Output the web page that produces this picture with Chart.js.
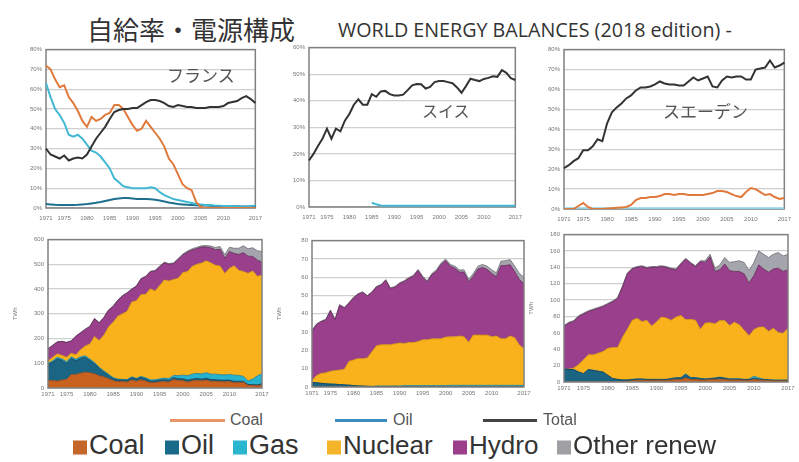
<!DOCTYPE html>
<html>
<head>
<meta charset="utf-8">
<script src="https://cdn.jsdelivr.net/npm/chart.js@4/dist/chart.umd.min.js"></script>
<style>
  body { margin: 0; background: #fff; width: 799px; height: 462px; position: relative; overflow: hidden;
         font-family: "Liberation Sans", Arial, sans-serif; }
  canvas { position: absolute; }
  .t { position: absolute; white-space: nowrap; color: #333; transform: translateY(-50%); }
  .sq { display: inline-block; width: 14px; height: 14px; margin-right: 2px; vertical-align: -1px; }
  .ln { position: absolute; height: 3px; }
</style>
</head>
<body>
<div class="t" style="left:87px;top:29px;font-size:26px;line-height:26px;font-family:'Noto Sans CJK JP';">自給率・電源構成</div>
<div class="t" style="left:338px;top:30px;font-size:19.7px;line-height:20px;font-family:'Open Sans';">WORLD ENERGY BALANCES (2018 edition) -</div>

<canvas id="frRate" width="253" height="182" style="left:16px;top:42px"></canvas>
<canvas id="chRate" width="250" height="183" style="left:279px;top:40px"></canvas>
<canvas id="seRate" width="264" height="183" style="left:534px;top:42px"></canvas>
<canvas id="frGen" width="260" height="170" style="left:12px;top:232px"></canvas>
<canvas id="chGen" width="258" height="168" style="left:276px;top:233px"></canvas>
<canvas id="seGen" width="270" height="169" style="left:528px;top:227px"></canvas>

<div class="t" style="left:167px;top:74px;font-size:17px;color:#555;font-family:'Noto Sans CJK JP';">フランス</div>
<div class="t" style="left:422px;top:110px;font-size:16px;color:#555;font-family:'Noto Sans CJK JP';">スイス</div>
<div class="t" style="left:663px;top:110px;font-size:17px;color:#555;font-family:'Noto Sans CJK JP';">スエーデン</div>

<div class="ln" style="left:170px;top:419px;width:55px;background:#e8946a"></div>
<div class="t" style="left:230px;top:420px;font-size:16px;color:#555">Coal</div>
<div class="ln" style="left:335px;top:419px;width:52px;background:#3a8cbc"></div>
<div class="t" style="left:393px;top:420px;font-size:16px;color:#555">Oil</div>
<div class="ln" style="left:483px;top:419px;width:54px;background:#444"></div>
<div class="t" style="left:543px;top:420px;font-size:16px;color:#555">Total</div>

<div class="t" style="left:73px;top:445px;font-size:27px"><span class="sq" style="background:#c4652a"></span>Coal</div>
<div class="t" style="left:165px;top:445px;font-size:27px"><span class="sq" style="background:#1a6a8a"></span>Oil</div>
<div class="t" style="left:233px;top:445px;font-size:27px"><span class="sq" style="background:#2ab5d0"></span>Gas</div>
<div class="t" style="left:327px;top:445px;font-size:26px"><span class="sq" style="background:#f5b52a"></span>Nuclear</div>
<div class="t" style="left:453px;top:445px;font-size:26px"><span class="sq" style="background:#9b3f8c"></span>Hydro</div>
<div class="t" style="left:557px;top:445px;font-size:26px"><span class="sq" style="background:#a0a0a4"></span>Other renew</div>

<script>
// years 1971-2017
const years = ['1971','1972','1973','1974','1975','1976','1977','1978','1979','1980',
  '1981','1982','1983','1984','1985','1986','1987','1988','1989','1990',
  '1991','1992','1993','1994','1995','1996','1997','1998','1999','2000',
  '2001','2002','2003','2004','2005','2006','2007','2008','2009','2010',
  '2011','2012','2013','2014','2015','2016','2017'];
const shownYears = ['1971','1975','1980','1985','1990','1995','2000','2005','2010','2017'];

// self-sufficiency, %
const frCoalRate = [72,70,65,61,62,56,53,49,44,41, 46,44,45,47,48,52,52,50,46,42,
  39,40,44,41,38,35,31,25,22,17, 12,10,9,3,0.5,0,0,0,0,0, 0,0,0,0,0,0,0];
const frGasRate = [63,56,50,47,43,37,36,37,35,32, 29,28,26,23,20,15,13,11,10.5,10,
  10,10,10,10.5,10,8,6.5,5.5,4.5,4, 3.5,3,2.5,2,1.8,1.5,1.5,1.3,1.2,1, 1,1,0.8,0.8,0.8,1,1.2];
const frOilRate = [2,1.8,1.6,1.5,1.5,1.5,1.5,1.6,1.8,2, 2.3,2.6,3,3.5,4,4.5,4.8,5,5,4.8,
  4.6,4.5,4.5,4.4,4.2,3.8,3.3,2.8,2.4,2, 1.8,1.6,1.5,1.4,1.3,1.2,1.1,1,1,1, 1,0.9,0.9,0.8,0.8,0.8,0.8];
const frTotalRate = [30,27,26,25,26.5,24,25,25.5,25,27, 31,35,38,41,45,48.5,49.5,50,50,50.5,
  50.5,52,53.5,54.5,54.5,54,53,51.5,51,52, 51.5,51,51,50.5,50.5,50.5,51,51,51,51.5, 53,53.5,54,55.5,56.5,55,53];

const chGasRate = [null,null,null,null,null,null,null,null,null,null, null,null,null,null,1.6,1,0.6,0.5,0.5,0.5,
  0.5,0.5,0.5,0.5,0.5,0.5,0.5,0.5,0.5,0.5, 0.5,0.5,0.5,0.5,0.5,0.5,0.5,0.5,0.5,0.5, 0.5,0.5,0.5,0.5,0.5,0.5,0.5];
const chTotalRate = [17.5,20,23,25.7,29.5,25.7,29.5,28.5,32.5,35, 38.5,40.5,38.5,38.5,42.5,41.5,43.5,43.7,42.5,42,
  42,42.3,44,45.8,46.3,46.2,44.6,45.2,47,47.4, 47.4,47,46.6,45,43,45.5,48.3,47.8,47.4,48.2, 48.6,49.2,49,51.5,50.5,48.5,47.8];

const seCoalRate = [0,0,0,1.5,3,1,0,0,0,0.2, 0.4,0.6,0.8,1,2,4.5,5.5,5.5,6,6,
  6.5,7.5,7.5,7,7.5,7.5,7,7,7,7, 7.5,8,9,9,8.5,7.5,6.5,6,8.5,10.5, 10,8.5,7,7.5,6,5,5.5];
const seGasRate = [0.4,0.4,0.4,0.4,0.4,0.4,0.4,0.4,0.4,0.4, 0.4,0.4,0.4,0.4,0.4,0.4,0.4,0.4,0.4,0.4,
  0.4,0.4,0.4,0.4,0.4,0.4,0.4,0.4,0.4,0.4, 0.4,0.4,0.4,0.4,0.4,0.4,0.4,0.4,0.4,0.4, 0.4,0.4,0.4,0.4,0.4,0.4,0.4];
const seTotalRate = [20.5,22,24,25.5,29.5,29.5,31.5,35,34,43, 48.5,51,53,55.5,57,59.5,61,61,61.5,62.5,
  64,63,62.5,62.5,62,62,64,66,64.5,65.5, 66.5,61.5,61,64.5,66.5,66,66.5,66.5,65,65, 70,70.5,71,74.5,71,72,73.5];

// electricity generation, TWh
const frCoal = [30,30,28,32,35,55,55,60,64,62, 58,50,45,38,30,26,26,24,32,28,
  33,28,22,22,25,26,24,34,30,30, 24,29,31,29,32,27,27,26,25,26, 22,22,23,11,10,9,12];
const frOil = [65,75,90,80,65,65,55,60,60,50, 40,30,20,14,8,7,6,7,10,8,
  10,9,6,6,7,8,7,8,8,7, 8,7,8,7,8,7,7,6,7,6, 5,5,4,3,4,4,5];
const frGas = [5,5,6,6,6,6,6,6,6,5, 5,4,4,4,4,3,3,3,3,3,
  4,4,5,5,5,6,7,9,12,15, 18,20,20,21,22,22,22,22,21,23, 25,24,20,14,22,36,41];
const frNuclear = [9,14,14,14,18,15,18,29,40,61, 105,108,144,191,224,254,265,276,303,314,
  331,338,368,359,377,397,395,388,394,415, 421,436,441,448,452,450,440,439,410,429, 442,425,424,436,437,403,398];
const frHydro = [49,48,48,56,60,49,75,68,67,70, 72,71,71,67,64,64,72,74,51,58,
  63,71,69,81,76,69,67,64,77,71, 79,66,64,65,56,61,63,68,62,68, 50,64,76,69,59,65,53];
const frOther = [1,1,1,1,1,1,1,1,1,1.5, 1.5,1.5,1.5,1.5,1.5,1.5,1.5,1.5,1.5,2,
  2,2,2,2,3,3,3,3,3,4, 4,5,5,5,6,7,9,11,14,17, 21,25,28,30,35,38,43];

const chCoal = [0,0,0,0,0,0,0,0,0,0, 0,0,0,0,0,0,0,0,0,0,
  0,0,0,0,0,0,0,0,0,0, 0,0,0,0,0,0,0,0,0,0, 0,0,0,0,0,0,0];
const chOil = [2.5,2.3,2,1.8,1.6,1.5,1.3,1.2,1,0.8, 0.6,0.5,0.4,0.3,0.2,0.2,0.2,0.2,0.2,0.2,
  0.2,0.2,0.2,0.2,0.2,0.2,0.2,0.2,0.2,0.2, 0.2,0.2,0.2,0.2,0.2,0.2,0.2,0.2,0.2,0.2, 0.2,0.2,0.2,0.2,0.2,0.2,0.2];
const chGas = [0,0,0,0,0,0,0,0,0,0, 0,0,0,0,0.4,0.4,0.4,0.4,0.4,0.4,
  0.6,0.6,0.6,0.6,0.6,0.6,0.6,0.6,0.6,0.6, 0.7,0.7,0.7,0.7,0.7,0.7,0.7,0.7,0.7,0.7, 0.7,0.7,0.7,0.7,0.7,0.7,0.7];
const chNuclear = [1,4,5.5,6,7,7.5,8,8.5,13,14, 15,15,15.5,19,22,22.5,22.5,22.5,23,23.5,
  23,23.5,23.5,24,25,25,25.5,25.5,25.5,26.5, 26.5,26.5,27,26.5,23.5,27.5,27.5,27.5,27.5,26.5, 27,25.5,25.5,27,26,22,20];
const chHydro = [27.2,27.9,28.2,28.9,33.1,27.7,35.4,33.5,31.7,33.9, 35.1,36.2,33.8,32.4,32.1,32.6,35.2,30.7,30.9,32.4,
  33.8,35,36.2,38.9,34.2,31.6,35,36.9,40.6,41.7, 38.6,37.5,34.9,35.3,33,32.1,36,36.9,35.8,34.6, 32.3,39.9,40,38.9,36.1,35.8,35.5];
const chOther = [0.3,0.3,0.3,0.3,0.3,0.3,0.3,0.3,0.3,0.3, 0.3,0.3,0.3,0.3,0.3,0.3,0.4,0.4,0.4,0.4,
  0.5,0.5,0.5,0.5,0.6,0.6,0.7,0.8,0.8,0.9, 1,1.1,1.2,1.3,1.4,1.5,1.6,1.7,1.8,2, 2.2,2.4,2.6,2.8,3,3.3,3.6];

const seCoal = [0.2,0.2,0.2,0.2,0.2,0.2,0.2,0.2,0.2,0.2, 0.2,0.2,0.5,1,1.5,2,2,2,2,2,
  2,2,2.5,3,3,5,3,3,2.5,2.5, 3,3,3.5,3,2.5,2.5,2.5,2,2,3, 2.5,2,2,1.5,1.5,1.5,1.5];
const seOil = [16,15,15,12,10,15,14,13,12,8, 4,3,2,1.5,1.5,1.5,1.5,1,1,1,
  1,1,1.5,2,2,4,2,2,1.5,1, 1,1.5,2,1.5,1,1,1,0.8,1,1.5, 1,0.8,0.6,0.5,0.5,0.5,0.5];
const seGas = [0,0,0,0,0,0,0,0,0,0, 0,0,0,0,0.3,0.3,0.3,0.3,0.3,0.3,
  0.3,0.3,0.3,0.3,0.3,1,0.5,0.5,0.5,0.5, 0.5,0.5,0.5,0.5,0.5,0.5,0.5,0.5,0.5,2.5, 1.5,0.5,0.5,0.5,0.5,0.5,0.5];
const seNuclear = [0,0.5,2,9,17,18,19,22,25,33, 38,39,52,62,72,74,70,72,65,70,
  76,75,71,74,76,66,71,70,60,68, 68,66,69,70,65,69,66,60,53,57, 62,64,59,63,58,57,63];
const seHydro = [51.8,56.3,56.8,58.8,55.8,52.8,54.8,54.8,54.8,53.8, 55.8,59.8,61.5,67.5,62.7,62.2,67.2,63.7,71.7,66.7,
  61.7,61.7,62.7,57.7,62.7,74,68.5,65.5,82.5,74, 80.5,64,62,69,67,62,65,68.7,64.5,66, 76,70.7,71.9,72.5,78.5,75.5,71.5];
const seOther = [1,1,1,1,1,1,1,1,1,1, 1,1,1,1,1,1,1,1,1,1,
  1,1,1,1,1,1,1,1,1,2, 3,4,6,8,10,12,13,14,15,16, 17,18,18,18,19,19,19];

Chart.defaults.font.family = '"Liberation Sans", Arial, sans-serif';

const COL = { coal: '#c8621e', oil: '#1b6584', gas: '#27b2cf', nuclear: '#f9b21b', hydro: '#9a3f8c', other: '#a5a5ad' };
const EDGE = { coal: '#8a4315', oil: '#123f55', gas: '#1a7f95', nuclear: '#c98b0e', hydro: '#5e2656', other: '#6c6c74' };

function framePlugin(onTop) {
  return {
    id: 'frame',
    [onTop ? 'afterDatasetsDraw' : 'beforeDatasetsDraw'](c) {
      const a = c.chartArea, ctx = c.ctx;
      ctx.save();
      ctx.strokeStyle = '#808080';
      ctx.lineWidth = 1.5;
      ctx.strokeRect(a.left, a.top, a.right - a.left, a.bottom - a.top);
      ctx.restore();
    }
  };
}

function lineSet(label, data, color, width) {
  return { label, data, borderColor: color, borderWidth: width || 2, fill: false, spanGaps: false };
}

function areaSet(label, data, key, first) {
  return { label, data, backgroundColor: COL[key], borderColor: EDGE[key], borderWidth: 0.8,
           fill: first ? 'origin' : '-1' };
}

function panel(id, datasets, yMax, step, opt) {
  new Chart(document.getElementById(id), {
    type: 'line',
    data: { labels: years, datasets },
    options: {
      responsive: false,
      animation: false,
      layout: { padding: { top: 6, right: 10, left: 0, bottom: 0 } },
      plugins: { legend: { display: false }, tooltip: { enabled: false } },
      elements: { point: { radius: 0 }, line: { tension: 0 } },
      scales: {
        x: {
          grid: { display: false, drawTicks: false },
          border: { display: false },
          ticks: {
            autoSkip: false, maxRotation: 0, padding: opt.xPad,
            font: { size: 6 }, color: '#777',
            callback(v) { const l = this.getLabelForValue(v); return shownYears.includes(l) ? l : ''; }
          },
          afterFit(s) { s.height = opt.xH; }
        },
        y: {
          min: 0, max: yMax, stacked: !!opt.stacked,
          ticks: { stepSize: step, font: { size: 6 }, color: '#777', padding: 4,
                   callback: v => opt.pct ? v + '%' : v },
          grid: { color: '#cfcfcf', lineWidth: 1.3, drawTicks: false },
          border: { display: false },
          title: { display: !!opt.title, text: 'TWh', font: { size: 6 }, color: '#777', padding: 0 },
          afterFit(s) { s.width = opt.yW; }
        }
      }
    },
    plugins: [framePlugin(!!opt.stacked)]
  });
}

const rateOpt = { pct: true, xH: 16, yW: 30, xPad: 7 };
const genOpt = { stacked: true, title: true, xH: 14, yW: 36, xPad: 3 };

panel('frRate', [
  lineSet('Total', frTotalRate, '#333'),
  lineSet('Coal', frCoalRate, '#e07a3c'),
  lineSet('Gas', frGasRate, '#42b8d2'),
  lineSet('Oil', frOilRate, '#1f6f8e')
], 80, 10, rateOpt);

panel('chRate', [
  lineSet('Total', chTotalRate, '#333'),
  lineSet('Gas', chGasRate, '#42b8d2')
], 60, 10, rateOpt);

panel('seRate', [
  lineSet('Total', seTotalRate, '#333'),
  lineSet('Coal', seCoalRate, '#e07a3c'),
  lineSet('Gas', seGasRate, '#8fd3e6')
], 80, 10, rateOpt);

function genSets(coal, oil, gas, nuclear, hydro, other) {
  return [
    areaSet('Coal', coal, 'coal', true),
    areaSet('Oil', oil, 'oil'),
    areaSet('Gas', gas, 'gas'),
    areaSet('Nuclear', nuclear, 'nuclear'),
    areaSet('Hydro', hydro, 'hydro'),
    areaSet('Other renew', other, 'other')
  ];
}

panel('frGen', genSets(frCoal, frOil, frGas, frNuclear, frHydro, frOther), 600, 100, genOpt);
panel('chGen', genSets(chCoal, chOil, chGas, chNuclear, chHydro, chOther), 80, 10, genOpt);
panel('seGen', genSets(seCoal, seOil, seGas, seNuclear, seHydro, seOther), 180, 20, genOpt);
</script>
</body>
</html>
